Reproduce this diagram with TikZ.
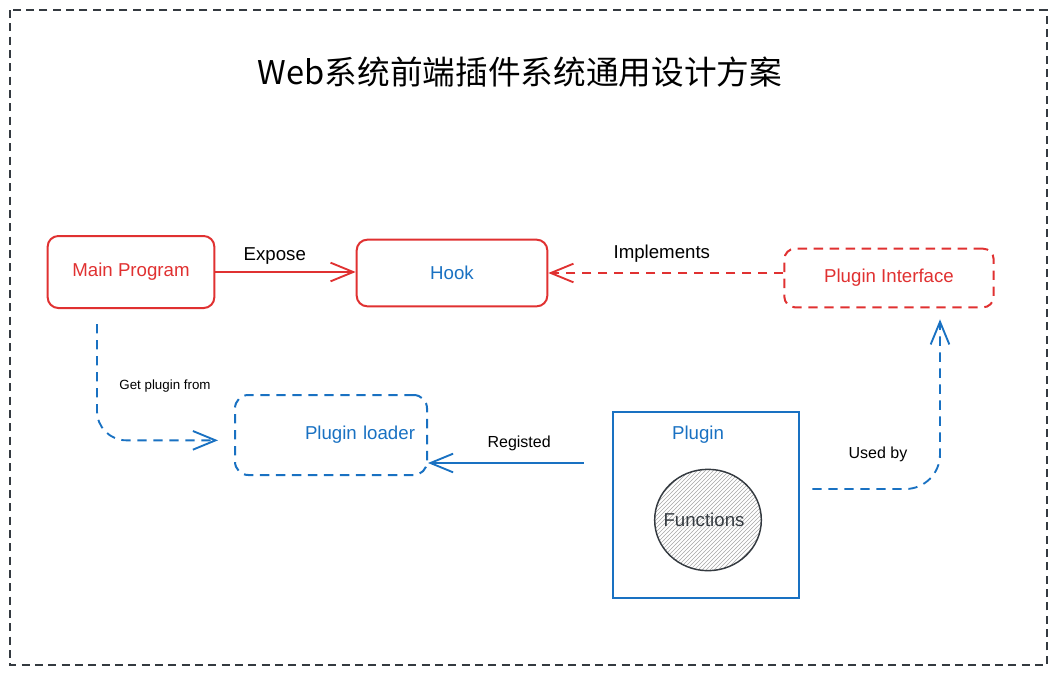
\documentclass[tikz,border=0pt]{standalone}
\usepackage{fontspec}
\setmainfont{Liberation Sans}
\newfontfamily\cjkfont{Noto Sans CJK SC}
\usetikzlibrary{shapes, arrows.meta, patterns, calc}
\definecolor{sketchred}{RGB}{224,49,49}
\definecolor{sketchblue}{RGB}{25,113,194}
\definecolor{sketchgray}{RGB}{52,58,64}
\tikzstyle{redblock} = [rectangle, draw=sketchred, line width=1.5pt, rounded corners=8pt,
    text=sketchred, font=\fontsize{14}{17}\selectfont, inner sep=0pt]
\tikzstyle{blueblock} = [rectangle, draw=sketchblue, line width=1.5pt,
    text=sketchblue, font=\fontsize{14}{17}\selectfont, inner sep=0pt]
\tikzstyle{sketchdash} = [dash pattern=on 7pt off 5pt]
\tikzstyle{tip} = [-{Straight Barb[length=17pt,width=14pt,line width=1.4pt]}]
\tikzstyle{redline} = [draw=sketchred, line width=1.4pt, tip]
\tikzstyle{blueline} = [draw=sketchblue, line width=1.4pt, tip]
\tikzstyle{edgetext} = [text=black, font=\fontsize{14}{17}\selectfont]

\begin{document}
\begin{tikzpicture}[x=0.75pt, y=-0.75pt]
        \useasboundingbox (0,0) rectangle (1057,672);
        % Frame and title
        \draw [sketchgray, line width=1.1pt, dash pattern=on 6pt off 4pt] (10,10) rectangle (1047,665);
        \node [font=\cjkfont\fontsize{24.5}{29}\selectfont] (title) at (520,72) {Web系统前端插件系统通用设计方案};
        % Place nodes
        \node [redblock, minimum width=125pt, minimum height=54pt] (main) at (131,272) {Main Program};
        \node [redblock, minimum width=143pt, minimum height=50pt, text=sketchblue] (hook) at (452,273) {Hook};
        \node [redblock, sketchdash, minimum width=157pt, minimum height=44pt] (iface) at (889,278) {Plugin Interface};
        \node [blueblock, sketchdash, rounded corners=10pt, minimum width=144pt, minimum height=60pt,
            text width=126pt, inner xsep=9pt, align=right] (loader) at (331,435) {Plugin loader};
        \node [blueblock, minimum width=140pt, minimum height=140pt,
            label={[text=sketchblue, font=\fontsize{14}{17}\selectfont, anchor=center, xshift=-6pt, yshift=-18pt]north:Plugin}] (plugin) at (706,505) {};
        \node [ellipse, draw=sketchgray, line width=1.1pt, pattern=north east lines, pattern color=gray!70,
            minimum width=80pt, minimum height=76pt, inner sep=0pt, text=sketchgray,
            font=\fontsize{14}{17}\selectfont] (functions) at (708,520) {\hspace{-6pt}Functions\hspace{-6pt}};
        % Free ends
        \coordinate (getstart) at ($(main.south)+(-34,15)$);
        \coordinate (regstart) at ($(plugin.west)+(-28,-42)$);
        \coordinate (usedstart) at ($(plugin.east)+(12,-16)$);
        \coordinate (usedend) at ($(iface.south)+(51,11)$);
        % Draw edges
        \path [redline] (main.east) -- node [edgetext, above=2pt, xshift=-8pt] {Expose} (main.east -| hook.west);
        \path [redline, sketchdash] (iface.west |- hook.east) -- node [edgetext, above=4pt, xshift=-3pt] {Implements} (hook.east);
        \path [blueline, sketchdash, rounded corners=22pt] (getstart) |- ([xshift=-12pt, yshift=-4pt]loader.west);
        \node [text=black, font=\fontsize{10}{12}\selectfont] (getlabel) at (165,386) {Get plugin from};
        \path [blueline] (regstart) -- node [edgetext, font=\fontsize{12}{14}\selectfont, above=5pt, xshift=10pt] {Registed} (regstart -| loader.east);
        \path [blueline, sketchdash, rounded corners=26pt] (usedstart) -| (usedend);
        \node [text=black, font=\fontsize{12}{14}\selectfont] (usedlabel) at (878,454) {Used by};
\end{tikzpicture}
\end{document}
